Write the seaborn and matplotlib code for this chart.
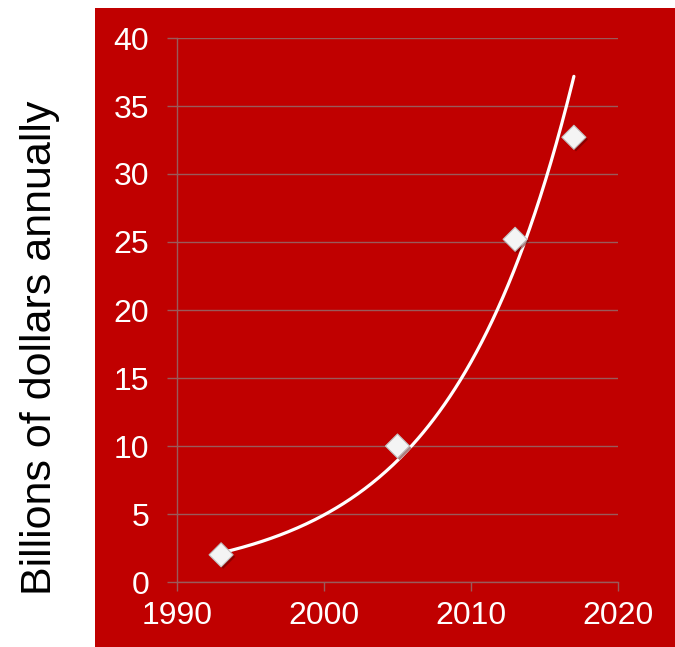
import numpy as np
import pandas as pd
import seaborn as sns
import matplotlib
matplotlib.use("Agg")
import matplotlib.pyplot as plt
from matplotlib.patches import Rectangle
import matplotlib.patheffects as pe

# Annual spending, billions of dollars
years = [1993, 2005, 2013, 2017]
billions = [2.0, 10.0, 25.2, 32.7]
x_ticks = [1990, 2000, 2010, 2020]
y_ticks = [0, 5, 10, 15, 20, 25, 30, 35, 40]

RED = "#C00000"
GRID = "#9a5a5a"

sns.set_theme(style="white")
plt.rcParams["font.family"] = ["Liberation Sans", "DejaVu Sans"]

fig = plt.figure(figsize=(6.75, 6.47), dpi=100)
fig.patch.set_facecolor("white")
# red panel behind the plot
fig.patches.append(Rectangle((95 / 675, 0), 1 - 95 / 675, 1 - 8 / 647,
                             transform=fig.transFigure, facecolor=RED,
                             edgecolor="none", zorder=-10))

ax = fig.add_axes([177 / 675, 1 - 582 / 647, (618 - 177) / 675, (582 - 38) / 647])
ax.set_zorder(1)
ax.set_facecolor(RED)

# exponential trendline fitted to the points
df = pd.DataFrame({"year": years, "value": billions})
k, b = np.polyfit(df["year"], np.log(df["value"]), 1)
trend = pd.DataFrame({"year": np.linspace(min(years), max(years), 200)})
trend["value"] = np.exp(b + k * trend["year"])

sns.lineplot(data=trend, x="year", y="value", ax=ax, color="white",
             linewidth=2.3, zorder=3)
sns.scatterplot(data=df, x="year", y="value", ax=ax, marker="D", s=150,
                color="#f4f4f4", edgecolor="#c0c0c0", linewidth=0.8, zorder=4)
for coll in ax.collections:
    coll.set_path_effects([pe.SimplePatchShadow(offset=(1.5, -1.5),
                                                shadow_rgbFace="#5a0000",
                                                alpha=0.5), pe.Normal()])

ax.set_xlim(1990, 2020)
ax.set_ylim(0, 40)
ax.set_xticks(x_ticks)
ax.set_yticks(y_ticks)
ax.yaxis.grid(True, color=GRID, linewidth=1.0)
ax.xaxis.grid(False)
ax.set_axisbelow(True)

for side in ["top", "right"]:
    ax.spines[side].set_visible(False)
for side in ["left", "bottom"]:
    ax.spines[side].set_color(GRID)
    ax.spines[side].set_linewidth(1.0)

ax.tick_params(axis="y", which="major", left=True, length=7, width=1.0,
               color=GRID, labelcolor="white", labelsize=23, pad=13)
ax.tick_params(axis="x", which="major", bottom=True, length=6.5, width=1.0,
               color=GRID, labelcolor="white", labelsize=23, pad=7)

ax.set_xlabel("")
ax.set_ylabel("")
fig.text(40 / 675, 1 - 348 / 647, "Billions of dollars annually",
         rotation=90, ha="center", va="center", fontsize=31, color="black")

fig.savefig("out.png", dpi=100)
